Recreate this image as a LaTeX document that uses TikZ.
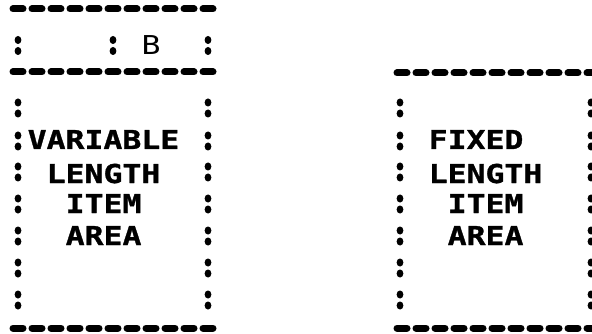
\documentclass[tikz,border=0pt]{standalone}
\usepackage{fontspec}
\newfontfamily\lpfont[FakeStretch=1.21, BoldFeatures={FakeBold=1.2}]{DejaVu Sans Mono}
\usetikzlibrary{positioning}

\begin{document}
\begin{tikzpicture}[x=1pt, y=-1pt,
  dashrow/.style={line width=7pt, line cap=round, dash pattern=on 10pt off 9pt},
  lbl/.style={font=\lpfont\bfseries\fontsize{26pt}{26pt}\selectfont, inner sep=0pt, anchor=base west},
  thinlbl/.style={font=\lpfont\fontsize{26pt}{26pt}\selectfont, inner sep=0pt, anchor=base west}
]
  \useasboundingbox (0,0) rectangle (592,334);
  \clip (0,0) rectangle (592,334);

  % variable length box (left)
  \foreach \y in {9,72,328}
    \draw[dashrow] (13,\y) -- (213,\y);
  \foreach \x in {18,113,208}
    \fill (\x,40) ellipse (3.4pt and 4pt) (\x,51) ellipse (3.4pt and 4pt);
  \node[thinlbl] (b) at (141.5,55) {B};

  \node[lbl] (var)  at (27.5,149) {VARIABLE};
  \node[lbl] (len1) at (46.5,183) {LENGTH};
  \node[lbl] (itm1) at (65.5,213) {ITEM};
  \node[lbl] (are1) at (65.5,245) {AREA};

  % fixed length box (right)
  \foreach \y in {73,328}
    \draw[dashrow] (397,\y) -- (597,\y);
  \node[lbl] (fix)  at (428.5,149) {FIXED};
  \node[lbl] (len2) at (428.5,183) {LENGTH};
  \node[lbl] (itm2) at (447.5,213) {ITEM};
  \node[lbl] (are2) at (447.5,245) {AREA};

  % colon borders of both boxes
  \foreach \y in {108,141,172,204,236,268,300}
    \foreach \x in {18,208,400,591}
      \fill (\x,\y-5.5) ellipse (3.4pt and 4pt) (\x,\y+5.5) ellipse (3.4pt and 4pt);
\end{tikzpicture}
\end{document}
